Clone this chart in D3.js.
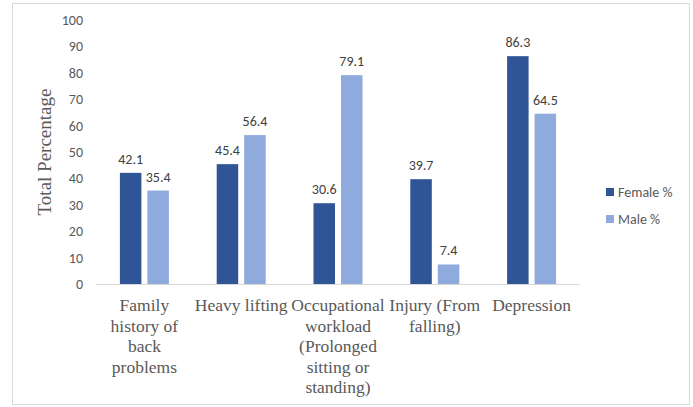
<!DOCTYPE html>
<html>
<head>
<meta charset="utf-8">
<script src="https://cdn.jsdelivr.net/npm/d3@7"></script>
<style>
  html, body { margin: 0; padding: 0; background: #fff; }
  svg { display: block; }
</style>
</head>
<body>
<svg id="chart" width="693" height="407"></svg>
<script>
// Risk factors, shown as multi-line category labels
const categories = [
  ["Family", "history of", "back", "problems"],
  ["Heavy lifting"],
  ["Occupational", "workload", "(Prolonged", "sitting or", "standing)"],
  ["Injury (From", "falling)"],
  ["Depression"]
];
const seriesNames = ["Female %", "Male %"];
const femaleValues = [42.1, 45.4, 30.6, 39.7, 86.3];
const maleValues = [35.4, 56.4, 79.1, 7.4, 64.5];
const yTicks = [0, 10, 20, 30, 40, 50, 60, 70, 80, 90, 100];
const colors = ["#2F5597", "#8FAADC"];

const svg = d3.select("#chart");
const labelFont = "Calibri, Carlito, 'Liberation Sans', Arial, sans-serif";
const serifFont = "'Times New Roman', 'Liberation Serif', serif";

// Outer frame
svg.append("rect")
  .attr("x", 12.5).attr("y", 3.5)
  .attr("width", 677).attr("height", 401)
  .attr("fill", "#fff").attr("stroke", "#d9d9d9").attr("stroke-width", 1);

const plot = { left: 96, right: 580, top: 20, bottom: 284 };

const x = d3.scaleBand()
  .domain(d3.range(categories.length))
  .range([plot.left, plot.right])
  .paddingInner(0).paddingOuter(0);

const y = d3.scaleLinear().domain([0, 100]).range([plot.bottom, plot.top]);

const series = [femaleValues, maleValues];
const barW = 21.5, barGap = 6;

// Y axis tick labels (no axis line)
const yAxis = d3.axisLeft(y).tickValues(yTicks).tickSize(0).tickPadding(0);
const yG = svg.append("g").attr("transform", `translate(83,0)`).call(yAxis);
yG.select(".domain").remove();
yG.selectAll("text")
  .attr("fill", "#595959")
  .attr("font-family", labelFont)
  .attr("font-size", 14);

// Bars
series.forEach((vals, si) => {
  svg.append("g").selectAll("rect")
    .data(vals)
    .join("rect")
    .attr("x", (d, i) => {
      const c = x(i) + x.bandwidth() / 2;
      return si === 0 ? c - barGap / 2 - barW : c + barGap / 2;
    })
    .attr("y", d => y(d))
    .attr("width", barW)
    .attr("height", d => y(0) - y(d))
    .attr("fill", colors[si]);

  // Value labels
  svg.append("g").selectAll("text")
    .data(vals)
    .join("text")
    .attr("x", (d, i) => {
      const c = x(i) + x.bandwidth() / 2;
      return si === 0 ? c - barGap / 2 - barW / 2 : c + barGap / 2 + barW / 2;
    })
    .attr("y", d => y(d) - 9)
    .attr("text-anchor", "middle")
    .attr("fill", "#404040")
    .attr("font-family", labelFont)
    .attr("font-size", 14)
    .text(d => d.toFixed(1));
});

// X axis baseline
svg.append("line")
  .attr("x1", plot.left).attr("x2", plot.right)
  .attr("y1", y(0) + 0.5).attr("y2", y(0) + 0.5)
  .attr("stroke", "#d9d9d9").attr("stroke-width", 1);

// Category labels
const catG = svg.append("g");
categories.forEach((lines, i) => {
  const t = catG.append("text")
    .attr("x", x(i) + x.bandwidth() / 2)
    .attr("y", 311)
    .attr("text-anchor", "middle")
    .attr("fill", "#595959")
    .attr("font-family", serifFont)
    .attr("font-size", 17.5);
  lines.forEach((ln, j) => {
    t.append("tspan")
      .attr("x", x(i) + x.bandwidth() / 2)
      .attr("y", 311 + j * 20.5)
      .text(ln);
  });
});

// Y axis title
svg.append("text")
  .attr("transform", `translate(51,152) rotate(-90)`)
  .attr("text-anchor", "middle")
  .attr("fill", "#595959")
  .attr("font-family", serifFont)
  .attr("font-size", 19)
  .text("Total Percentage");

// Legend
const legend = svg.append("g");
seriesNames.forEach((name, i) => {
  const ly = 192 + i * 27;
  legend.append("rect")
    .attr("x", 606).attr("y", ly - 4)
    .attr("width", 8).attr("height", 8)
    .attr("fill", colors[i]);
  legend.append("text")
    .attr("x", 618).attr("y", ly + 5)
    .attr("fill", "#595959")
    .attr("font-family", labelFont)
    .attr("font-size", 14)
    .text(name);
});
</script>
</body>
</html>
